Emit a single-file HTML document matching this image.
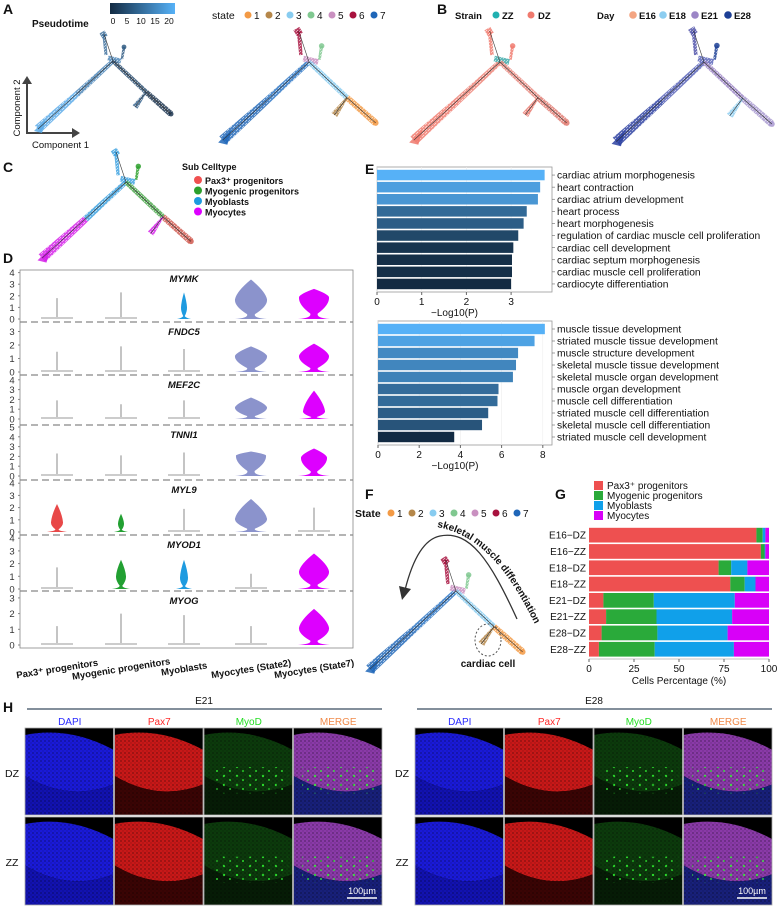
<!DOCTYPE html>
<html><head><meta charset="utf-8">
<style>
html,body{margin:0;padding:0;background:#fff;}
svg{display:block;font-family:"Liberation Sans",Arial,sans-serif;}
</style></head>
<body>
<svg id="fig" width="777" height="908" viewBox="0 0 777 908" xmlns="http://www.w3.org/2000/svg">
<defs>
<linearGradient id="pt" x1="0" x2="1" y1="0" y2="0"><stop offset="0" stop-color="#132b43"/><stop offset="1" stop-color="#56b1f7"/></linearGradient>
<pattern id="tex" width="4" height="4" patternUnits="userSpaceOnUse"><rect width="4" height="4" fill="none"/><circle cx="1" cy="1" r="0.9" fill="#000" opacity="0.35"/><circle cx="3" cy="3" r="0.7" fill="#000" opacity="0.2"/></pattern>
<pattern id="gdots" width="13" height="9" patternUnits="userSpaceOnUse"><circle cx="3" cy="2" r="1.2" fill="#3f3"/><circle cx="9" cy="6" r="1" fill="#3f3"/></pattern>
<pattern id="speck" width="3" height="3" patternUnits="userSpaceOnUse"><rect width="3" height="3" fill="#fff" opacity="0"/><rect x="0" y="0" width="1" height="1" fill="#fff" opacity="0.6"/><rect x="2" y="1" width="1" height="1" fill="#fff" opacity="0.5"/></pattern>
</defs>
<g id="root"></g>
</svg>
<script>
// ===== Panel E data =====
const cardiacTerms=["cardiac atrium morphogenesis","heart contraction","cardiac atrium development","heart process","heart morphogenesis","regulation of cardiac muscle cell proliferation","cardiac cell development","cardiac septum morphogenesis","cardiac muscle cell proliferation","cardiocyte differentiation"];
const cardiacVals=[3.75,3.65,3.6,3.35,3.28,3.16,3.05,3.02,3.02,3.0];
const cardiacTicks=[0,1,2,3];
const muscleTerms=["muscle tissue development","striated muscle tissue development","muscle structure development","skeletal muscle tissue development","skeletal muscle organ development","muscle organ development","muscle cell differentiation","striated muscle cell differentiation","skeletal muscle cell differentiation","striated muscle cell development"];
const muscleVals=[8.1,7.6,6.8,6.7,6.55,5.85,5.8,5.35,5.05,3.7];
const muscleTicks=[0,2,4,6,8];
// ===== Panel G data =====
const groups=["E16−DZ","E16−ZZ","E18−DZ","E18−ZZ","E21−DZ","E21−ZZ","E28−DZ","E28−ZZ"];
const pax3=[93,95.5,72,78.5,8,9.5,7,5.5];
const myogenic=[3.5,2,7,8,28,28,31,31];
const myoblasts=[1.5,0.5,9,6,45,42,39,44];
const myocytes=[2,2,12,7.5,19,20.5,23,19.5];
const gTicks=[0,25,50,75,100];
// ===== Panel D data =====
const genes=["MYMK","FNDC5","MEF2C","TNNI1","MYL9","MYOD1","MYOG"];
const cellCats=["Pax3⁺ progenitors","Myogenic progenitors","Myoblasts","Myocytes (State2)","Myocytes (State7)"];
const exprMax=[[1.8,2.3,2.3,3.4,2.6],[1.5,1.9,1.7,1.9,2.1],[1.9,1.5,1.9,2.2,2.9],[2.3,2.1,2.4,2.5,2.8],[2.3,1.5,1.9,2.7,2.0],[1.7,2.3,2.3,1.2,2.8],[1.2,2.0,1.9,1.2,2.3]];
const exprMode=[[0,0,1,1.7,1.9],[0,0,0,1.2,1.2],[0,0,0,1.2,0.8],[0,0,0,2.1,1.9],[0.8,0.7,0,1.1,0],[0,1,0.9,0,1.4],[0,0,0,0,1.1]];
const exprWidth=[[0,0,3,16,15],[0,0,0,16,15],[0,0,0,16,11],[0,0,0,15,13],[6,3,0,16,0],[0,5,4,0,15],[0,0,0,0,15]];
const geneTicks=[[0,1,2,3,4],[0,1,2,3],[0,1,2,3,4],[0,1,2,3,4,5],[0,1,2,3,4],[0,1,2,3,4],[0,1,2,3]];

const NS="http://www.w3.org/2000/svg";
const root=document.getElementById('root');
function el(tag,attrs,parent,txt){const e=document.createElementNS(NS,tag);for(const k in attrs)e.setAttribute(k,attrs[k]);if(txt!==undefined)e.textContent=txt;(parent||root).appendChild(e);return e;}
function T(x,y,s,opt,parent){return el('text',Object.assign({x:x,y:y,'font-size':10,fill:'#111'},opt||{}),parent,s);}

// ===== panel letters =====
[["A",3,14],["B",437,14],["C",3,172],["D",3,263],["E",365,174],["F",365,499],["G",555,499],["H",3,712]].forEach(p=>{
  const t=T(p[1],p[2],p[0],{'font-size':14,'font-weight':'bold'});
  
  
});

// ===== Legends A/B =====
let g=el('g',{});  
T(32,27,"Pseudotime",{'font-weight':'bold','font-size':10},g);
el('rect',{x:110,y:3,width:65,height:11,fill:'url(#pt)'},g);
["0","5","10","15","20"].forEach((s,i)=>T(113+i*14,24,s,{'font-size':8.5,'text-anchor':'middle'},g));
const stateCols=['#f39a45','#b5874a','#88ccf0','#80c890','#c990c0','#a8123e','#1f66b8'];
function stateLegend(x0,y0,labelTxt,name,bold){
  const lg=el('g',{});  
  T(x0,y0+4,labelTxt,{'font-size':10.5,'font-weight':bold?'bold':'normal'},lg);
  stateCols.forEach((c,i)=>{el('circle',{cx:x0+36+i*21,cy:y0,r:3.5,fill:c},lg);T(x0+42+i*21,y0+4,String(i+1),{'font-size':10},lg);});
}
stateLegend(212,15,"state","state-legend-a",false);
g=el('g',{});  
T(455,19,"Strain",{'font-weight':'bold','font-size':9.5},g);
el('circle',{cx:496,cy:15,r:3.5,fill:'#20b0b0'},g);T(502,19,"ZZ",{'font-weight':'bold','font-size':9.5},g);
el('circle',{cx:531,cy:15,r:3.5,fill:'#f07a6e'},g);T(538,19,"DZ",{'font-weight':'bold','font-size':9.5},g);
g=el('g',{});  
T(597,19,"Day",{'font-weight':'bold','font-size':9.5},g);
[['#f4a582','E16',633],['#8ccdf0','E18',663],['#9c86c6','E21',695],['#1c3f95','E28',728]].forEach(d=>{el('circle',{cx:d[2],cy:15,r:3.8,fill:d[0]},g);T(d[2]+6,19,d[1],{'font-weight':'bold','font-size':9.5},g);});

// component axes
g=el('g',{});  
el('line',{x1:27,y1:134,x2:27,y2:82,stroke:'#444','stroke-width':2},g);
el('polygon',{points:'22,84 32,84 27,76',fill:'#444'},g);
el('line',{x1:27,y1:133,x2:74,y2:133,stroke:'#444','stroke-width':2},g);
el('polygon',{points:'72,128 72,138 80,133',fill:'#444'},g);
T(20,108,"Component 2",{'font-size':9.5,'text-anchor':'middle',transform:'rotate(-90 20 108)'},g);
T(32,148,"Component 1",{'font-size':9.5},g);

// ===== Trajectories =====
function seg(gp,p,q,w1,w2,c,op){
  const dx=q[0]-p[0],dy=q[1]-p[1],L=Math.hypot(dx,dy)||1,nx=-dy/L,ny=dx/L;
  const pts=[[p[0]+nx*w1,p[1]+ny*w1],[q[0]+nx*w2,q[1]+ny*w2],[q[0]-nx*w2,q[1]-ny*w2],[p[0]-nx*w1,p[1]-ny*w1]].map(a=>a.join(',')).join(' ');
  el('polygon',{points:pts,fill:c,opacity:op||0.8},gp);
  el('polygon',{points:pts,fill:'url(#speck)'},gp);
}
function traj(ax,ay,s,c,name){
  const gp=el('g',{});  
  const P=(x,y)=>[ax+x*s,ay+y*s];
  const A=P(0,0),L=P(-75,68),M=P(-36,33),Tp=P(-9,-27),J=P(33,31),R=P(58,53),B=P(22,46),S=P(11,-14),S0=P(9,-2);
  seg(gp,M,L,3*s,4.5*s,c.lo); seg(gp,A,M,2.2*s,3*s,c.li);
  el('polygon',{points:[P(-79,70),P(-67,58),P(-71,72)].map(a=>a.join(',')).join(' '),fill:c.lo,opacity:0.85},gp);
  seg(gp,P(-7,-6),Tp,1.5*s,1.7*s,c.top); seg(gp,P(-8,-24),P(-11,-29),3*s,3*s,c.top);
  seg(gp,S0,S,1.2*s,1.4*s,c.stub); el('circle',{cx:S[0],cy:S[1],r:2.4*s,fill:c.stub,opacity:0.85},gp);
  seg(gp,P(-5,-3),P(8,0),2.5*s,2.5*s,c.apex||c.li);
  seg(gp,A,J,2.2*s,2.4*s,c.ru); seg(gp,J,R,2.6*s,3*s,c.rl);
  el('circle',{cx:R[0],cy:R[1],r:2.5*s,fill:c.rl,opacity:0.85},gp);
  seg(gp,J,B,0.8*s,3*s,c.br);
  el('polyline',{points:[L,A,Tp].map(a=>a.join(',')).join(' '),fill:'none',stroke:'#333','stroke-width':0.6},gp);
  el('polyline',{points:[A,J,R].map(a=>a.join(',')).join(' '),fill:'none',stroke:'#333','stroke-width':0.6},gp);
  el('polyline',{points:[J,B].map(a=>a.join(',')).join(' '),fill:'none',stroke:'#333','stroke-width':0.6},gp);
}
const stateC={lo:'#1f66b8',li:'#2a74c4',top:'#a8123e',stub:'#80c890',apex:'#c990c0',ru:'#88ccf0',rl:'#f39a45',br:'#b5874a'};
traj(113,61,1.0,{lo:'#5aaae8',li:'#4a85b8',top:'#3d6f9c',stub:'#2f5a82',ru:'#2a4d70',rl:'#1c3550',br:'#35628c'},'trajectory-pseudotime');
traj(309,62,1.15,stateC,'trajectory-state');
traj(500,62,1.15,{lo:'#f07a6e',li:'#ee8276',top:'#f07a6e',stub:'#f07a6e',apex:'#3aa8a8',ru:'#e88a80',rl:'#e07a70',br:'#e8756a'},'trajectory-strain');
traj(704,62,1.17,{lo:'#2a3fa0',li:'#5560b8',top:'#4c4fa8',stub:'#1c3f95',ru:'#9c86c6',rl:'#a898d0',br:'#8ccdf0'},'trajectory-day');
traj(126,182,1.12,{lo:'#d41ee8',li:'#3aa0e0',top:'#3aa0e0',stub:'#2ca02c',ru:'#4aa84a',rl:'#d05a50',br:'#d41ee8'},'trajectory-celltype');
traj(456,591,1.15,stateC,'trajectory-f');

// C legend
g=el('g',{});  
T(182,170,"Sub Celltype",{'font-weight':'bold','font-size':9},g);
[['#f05050','Pax3⁺ progenitors'],['#2ca02c','Myogenic progenitors'],['#1e9be0','Myoblasts'],['#dd00ff','Myocytes']].forEach((d,i)=>{el('circle',{cx:198,cy:180+i*10.5,r:4,fill:d[0]},g);T(205,184+i*10.5,d[1],{'font-weight':'bold','font-size':9},g);});

// F legend & annotations
stateLegend(355,513,"State","state-legend-f",true);
g=el('g',{});  
el('path',{d:'M517,619 C490,560 470,530 440,536 C420,540 410,570 405,590',fill:'none',stroke:'#333','stroke-width':1.3},g);
el('polygon',{points:'399,586 411,589 402,600',fill:'#333'},g);
el('path',{id:'arcTxt',d:'M437,527 C480,535 510,570 540,635',fill:'none'},g);
const tp=el('text',{'font-size':10,'font-weight':'bold',fill:'#111'},g);
el('textPath',{href:'#arcTxt'},tp,"skeletal muscle differentiation");
el('ellipse',{cx:488,cy:640,rx:13,ry:16,fill:'none',stroke:'#555','stroke-dasharray':'2,2'},g);
T(488,667,"cardiac cell",{'font-size':10,'font-weight':'bold','text-anchor':'middle'},g);

// ===== Panel E bar charts =====
function lerpC(a,b,t){const pa=[1,3,5].map(i=>parseInt(a.substr(i,2),16)),pb=[1,3,5].map(i=>parseInt(b.substr(i,2),16));return 'rgb('+pa.map((v,i)=>Math.round(v+(pb[i]-v)*t)).join(',')+')';}
function goChart(terms,vals,ticks,x0,ppu,yTop,yBot,name){
  const gp=el('g',{});  
  const xs=v=>x0+v*ppu; const xr=552;
  el('rect',{x:x0,y:yTop,width:xr-x0,height:yBot-yTop,fill:'#fff',stroke:'#999','stroke-width':0.8},gp);
  ticks.forEach(t=>el('line',{x1:xs(t),y1:yTop,x2:xs(t),y2:yBot,stroke:'#eee','stroke-width':0.6},gp));
  const n=vals.length,h=(yBot-yTop-4)/n,mn=Math.min(...vals),mx=Math.max(...vals);
  vals.forEach((v,i)=>{
    const b=el('rect',{x:x0,y:yTop+2+i*h+0.8,width:xs(v)-x0,height:h-1.6,fill:lerpC('#132b43','#56b1f7',(v-mn)/(mx-mn))},gp);
    
    
    el('line',{x1:xr,y1:yTop+2+(i+0.5)*h,x2:xr+3,y2:yTop+2+(i+0.5)*h,stroke:'#666','stroke-width':0.6},gp);
    T(xr+5,yTop+2+(i+0.5)*h+3.6,terms[i],{'font-size':10.3},gp);
  });
  ticks.forEach(t=>{el('line',{x1:xs(t),y1:yBot,x2:xs(t),y2:yBot+3,stroke:'#666'},gp);T(xs(t),yBot+13,String(t),{'font-size':10,'text-anchor':'middle'},gp);});
  T((x0+xr)/2-10,yBot+24,"−Log10(P)",{'font-size':10,'text-anchor':'middle'},gp);
}
goChart(cardiacTerms,cardiacVals,cardiacTicks,377,44.7,167,292,'go-chart-cardiac');
goChart(muscleTerms,muscleVals,muscleTicks,378,20.6,321,445,'go-chart-muscle');

// ===== Panel G stacked bars =====
g=el('g',{});  
const gCols=['#ee5050','#2aaa3a','#10a0ea','#d800f8'];
const gNames=['Pax3⁺ progenitors','Myogenic progenitors','Myoblasts','Myocytes'];
gNames.forEach((n,i)=>{el('rect',{x:594,y:481+i*10,width:9,height:9,fill:gCols[i]},g);T(607,489+i*10,n,{'font-size':10},g);});
const gx=v=>589+v*1.8, gy0=527, gh=16.3;
const allSeries=[pax3,myogenic,myoblasts,myocytes];
allSeries.forEach((ser,si)=>{
  ser.forEach((v,i)=>{
    let start=0; for(let k=0;k<si;k++) start+=allSeries[k][i];
    const r=el('rect',{x:gx(start),y:gy0+i*gh+0.8,width:gx(start+v)-gx(start),height:gh-1.6,fill:gCols[si]},g);
    
    
  });
});
groups.forEach((s,i)=>T(586,gy0+(i+0.5)*gh+3.5,s,{'font-size':10,'text-anchor':'end'},g));
el('line',{x1:589,y1:659,x2:769,y2:659,stroke:'#888','stroke-width':0.6},g);
gTicks.forEach(t=>{el('line',{x1:gx(t),y1:659,x2:gx(t),y2:662,stroke:'#666'},g);T(gx(t),672,String(t),{'font-size':10,'text-anchor':'middle'},g);});
T(679,684,"Cells Percentage (%)",{'font-size':10,'text-anchor':'middle'},g);

// ===== Panel D violins =====
const panelTop=[270,323,376,426,481,536,592];
const panelZero=[319,372,419,476,532,589,645];
const panelPx=[11.6,13.5,9.8,9.8,12.2,12.7,15.7];
const catX=[57,121,184,251,314];
const vCols=['#e84848','#22a032','#1e9be0','#8b93cc','#dd00ff'];
g=el('g',{});  
el('rect',{x:20,y:270,width:333,height:378,fill:'none',stroke:'#888','stroke-width':0.8},g);
genes.forEach((gn,gi)=>{
  const y0=panelZero[gi],pp=panelPx[gi],ys=v=>y0-v*pp;
  const pg=el('g',{},g);  
  if(gi<6) el('line',{x1:20,y1:[322,375,425,480,535,591][gi],x2:353,y2:[322,375,425,480,535,591][gi],stroke:'#888','stroke-width':1.2,'stroke-dasharray':'7,4'},pg);
  geneTicks[gi].forEach(t=>{T(12,ys(t)+3.5,String(t),{'font-size':9.5,'text-anchor':'middle',fill:'#333'},pg);el('line',{x1:18,y1:ys(t),x2:20,y2:ys(t),stroke:'#888'},pg);});
  T(184,panelTop[gi]+12,gn,{'font-size':9.5,'font-weight':'bold','font-style':'italic','text-anchor':'middle'},pg);
  catX.forEach((cx,ci)=>{
    const mx=exprMax[gi][ci],md=exprMode[gi][ci],w=exprWidth[gi][ci];
    if(w===0){
      el('line',{x1:cx,y1:y0,x2:cx,y2:ys(mx),stroke:'#888','stroke-width':1},pg);
      el('rect',{x:cx-16,y:y0-2,width:32,height:2,fill:'#ccc'},pg);
    } else {
      const b=Math.min(16,w+4), ymd=ys(md), ytop=ys(mx), yn=y0-Math.max(2,(ymd-y0)*-0.25);
      const d=`M${cx-b},${y0} Q${cx-2},${y0-1} ${cx-w*0.25},${yn} Q${cx-w*1.05},${ymd+(y0-ymd)*0.35} ${cx-w},${ymd} Q${cx-w*0.9},${ymd-(ymd-ytop)*0.4} ${cx},${ytop} Q${cx+w*0.9},${ymd-(ymd-ytop)*0.4} ${cx+w},${ymd} Q${cx+w*1.05},${ymd+(y0-ymd)*0.35} ${cx+w*0.25},${yn} Q${cx+2},${y0-1} ${cx+b},${y0} Z`;
      const v=el('path',{d:d,fill:vCols[ci]},pg);
      
      
    }
  });
});
cellCats.forEach((c,i)=>T(catX[i],672,c,{'font-size':9.5,'font-weight':'bold','text-anchor':'middle',transform:`rotate(-9 ${catX[i]} 668)`},g));

// ===== Panel H microscopy =====
function micro(x,y,w,h,type,gp){
  const fills={DAPI:['#1a1ad8','#1212b0'],Pax7:['#c81818','#3a0404'],MyoD:['#0c3a0c','#061c06'],MERGE:['#8a3aa8','#18207a']};
  const f=fills[type];
  el('rect',{x:x,y:y,width:w,height:h,fill:'#000'},gp);
  el('path',{d:`M${x},${y+h*0.08} Q${x+w*0.5},${y-2} ${x+w},${y+h*0.25} L${x+w},${y+h*0.65} Q${x+w*0.5},${y+h*0.85} ${x},${y+h*0.55} Z`,fill:f[0]},gp);
  el('path',{d:`M${x},${y+h*0.55} Q${x+w*0.5},${y+h*0.85} ${x+w},${y+h*0.65} L${x+w},${y+h} L${x},${y+h} Z`,fill:f[1]},gp);
  if(type==='MyoD'||type==='MERGE') el('rect',{x:x+w*0.1,y:y+h*0.45,width:w*0.85,height:h*0.3,fill:'url(#gdots)',opacity:0.8},gp);
  el('rect',{x:x,y:y,width:w,height:h,fill:'url(#tex)'},gp);
  el('rect',{x:x,y:y,width:w,height:h,fill:'none',stroke:'#aaa','stroke-width':0.8},gp);
}
const chans=[['DAPI','#2a2aff'],['Pax7','#ff2a2a'],['MyoD','#22dd22'],['MERGE','#f08a4a']];
[[25,'E21','micro-e21'],[415,'E28','micro-e28']].forEach(G=>{
  const gp=el('g',{});  
  const x0=G[0],pw=89.5;
  T(x0+179,704,G[1],{'font-size':10,'text-anchor':'middle'},gp);
  el('line',{x1:x0+2,y1:709,x2:x0+357,y2:709,stroke:'#5a6a7a','stroke-width':1.6},gp);
  chans.forEach((c,i)=>T(x0+pw*i+pw/2,725,c[0],{'font-size':10,fill:c[1],'text-anchor':'middle'},gp));
  ['DZ','ZZ'].forEach((r,ri)=>{
    T(x0-13,ri?866:777,r,{'font-size':10.5,'text-anchor':'middle'},gp);
    chans.forEach((c,i)=>micro(x0+pw*i,ri?817:728,pw-1,ri?88:87,c[0],gp));
  });
  el('line',{x1:x0+322,y1:898,x2:x0+352,y2:898,stroke:'#fff','stroke-width':1.5},gp);
  T(x0+337,894,"100µm",{'font-size':9,fill:'#fff','text-anchor':'middle'},gp);
});
</script>
</body></html>
